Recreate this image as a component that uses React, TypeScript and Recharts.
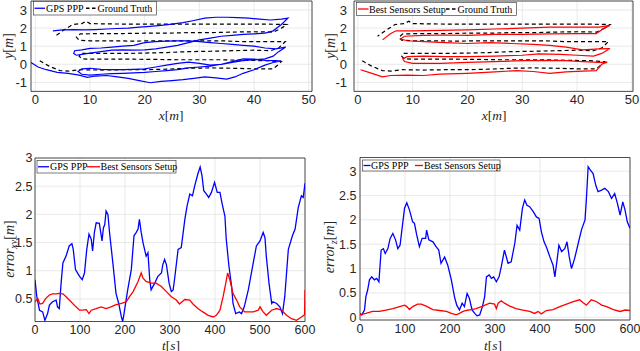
import React from 'react';
import { ComposedChart, Scatter, XAxis, YAxis, CartesianGrid, ReferenceArea } from 'recharts';

type Pt = [number, number];

// ---------- data (x [m], y [m]) ----------
const groundTruth: Pt[] = [
  [0.8, 0.2], [2.5, -0.1], [4.5, -0.35], [6, -0.38], [8, -0.3], [12, -0.32], [16, -0.3], [20, -0.3], [24, -0.27],
  [28, -0.22], [32, -0.2], [36, -0.22], [40, -0.25], [43.5, -0.25], [44.5, 0.0], [45, 0.15],
  [42, 0.2], [38, 0.22], [34, 0.25], [30, 0.25], [26, 0.25], [22, 0.27], [18, 0.28], [14, 0.28], [10, 0.28],
  [8.5, 0.3], [8, 0.45], [8.3, 0.6],
  [12, 0.6], [16, 0.6], [20, 0.62], [24, 0.65], [28, 0.7], [32, 0.72], [36, 0.75], [40, 0.78], [43, 0.75],
  [44.5, 0.9], [45.7, 1.25],
  [42, 1.25], [38, 1.25], [34, 1.3], [30, 1.3], [26, 1.3], [22, 1.3], [18, 1.28], [14, 1.3], [10, 1.3],
  [8, 1.33], [7.5, 1.5], [8.2, 1.68],
  [12, 1.7], [16, 1.7], [20, 1.72], [24, 1.72], [28, 1.75], [32, 1.75], [36, 1.78], [40, 1.8], [43.6, 1.78],
  [45, 2.0], [46, 2.2],
  [42, 2.22], [38, 2.22], [34, 2.22], [30, 2.22], [26, 2.22], [22, 2.22], [18, 2.22], [14, 2.23], [10, 2.25],
  [9.3, 2.38], [8.5, 2.25], [6.8, 2.2], [5, 1.85], [3.6, 1.55],
];

const gpsTrajectory: Pt[] = [
  [-0.8, 0.1], [0.5, -0.15], [2, -0.3], [4, -0.45], [6, -0.5], [8, -0.6], [9.5, -0.72], [11, -0.65], [13, -0.62],
  [15, -0.7], [17, -0.78], [19, -0.9], [21, -1.02], [23, -0.95], [25, -0.9], [27, -0.85], [29, -0.78], [31, -0.7],
  [33, -0.75], [35, -0.82], [36.5, -0.7], [38, -0.5], [40, -0.3], [42, -0.05], [43.5, 0.1], [45, 0.18],
  [44, 0.2], [42, 0.22], [40, 0.28], [38, 0.3], [36, 0.15], [34, 0.0], [32, -0.1], [30, -0.15], [28, -0.2],
  [26, -0.3], [24, -0.35], [22, -0.4], [20, -0.45], [18, -0.48], [16, -0.5], [14, -0.52], [12, -0.55],
  [10, -0.6], [8.5, -0.55], [7.8, -0.4],
  [8.5, -0.25], [10, -0.22], [12, -0.28], [14, -0.3], [16, -0.3], [18, -0.28], [20, -0.25], [22, -0.15],
  [24, -0.05], [26, 0.05], [28, 0.12], [30, 0.05], [32, -0.05], [34, 0.0], [36, 0.1], [38, 0.2], [40, 0.25],
  [42, 0.3], [43.5, 0.45], [44.5, 0.7], [45.8, 0.95],
  [44, 0.85], [42, 0.9], [40, 1.0], [38, 1.05], [36, 1.1], [34, 1.15], [32, 1.2], [30, 1.25], [28, 1.3],
  [26, 1.3], [24, 1.28], [22, 1.25], [20, 1.2], [18, 1.05], [16, 1.0], [14, 0.95], [12, 0.9], [10, 0.88],
  [8.5, 0.8], [7.2, 0.75], [7, 0.6], [7.5, 0.5], [8.5, 0.55],
  [10, 0.62], [12, 0.7], [14, 0.78], [16, 0.8], [18, 0.78], [20, 0.8], [22, 0.85], [24, 0.95], [26, 1.05],
  [28, 1.2], [30, 1.35], [32, 1.45], [34, 1.55], [36, 1.6], [38, 1.65], [40, 1.68], [42, 1.72], [43.5, 1.85],
  [45, 2.2], [46.2, 2.55],
  [45, 2.5], [43, 2.45], [41, 2.5], [39, 2.55], [37, 2.58], [35, 2.6], [33, 2.6], [31, 2.55], [29, 2.42],
  [27, 2.3], [25, 2.22], [23, 2.15], [21, 2.1], [19, 2.05], [17, 2.0], [15, 1.98], [13, 1.95], [11, 1.92],
  [9, 1.9], [7, 1.92], [5, 1.9], [3.2, 1.85],
];

const bestTrajectory: Pt[] = [
  [0.5, -0.3], [2, -0.45], [4.5, -0.7], [6, -0.62], [9, -0.6], [12, -0.62], [15, -0.55], [20, -0.5], [25, -0.42],
  [29, -0.35], [32, -0.4], [35, -0.5], [38, -0.42], [41, -0.38], [43.5, -0.35], [44.5, 0.0], [45.5, 0.12],
  [44, 0.1], [41, 0.15], [38, 0.2], [35, 0.22], [30, 0.2], [25, 0.15], [20, 0.1], [15, 0.05], [10, 0.05],
  [8.5, 0.15], [8.2, 0.3], [9, 0.42],
  [12, 0.45], [16, 0.42], [20, 0.42], [25, 0.45], [30, 0.5], [33, 0.58], [37, 0.55], [40, 0.5], [43, 0.45],
  [44.5, 0.6], [46, 0.87],
  [44, 0.85], [41, 0.8], [38, 0.95], [35, 1.05], [32, 1.1], [28, 1.15], [24, 1.2], [20, 1.15], [16, 1.2],
  [12, 1.25], [9, 1.3], [7.8, 1.4], [8.5, 1.55],
  [12, 1.6], [16, 1.62], [20, 1.6], [25, 1.65], [30, 1.65], [35, 1.68], [40, 1.7], [43.5, 1.7], [45, 2.0],
  [46, 2.15],
  [44, 2.05], [40, 2.05], [35, 2.05], [30, 2.0], [25, 1.95], [20, 1.9], [15, 1.88], [10, 1.85], [7, 1.85],
  [6, 1.7], [4.5, 1.35],
];

// ---------- data (t [s], error [m]) ----------
const gpsErrorXY: Pt[] = [
  [0, 0.84], [4, 0.54], [10, 0.3], [17, 0.27], [22, 0.12], [28, 0.24], [32, 0.39], [39, 0.45], [47, 0.48],
  [50, 0.36], [54, 0.33], [58, 0.78], [62, 1.14], [69, 1.26], [76, 1.44], [82, 1.48], [85, 1.38], [90, 1.02],
  [99, 0.9], [105, 0.84], [110, 0.96], [115, 1.38], [120, 1.65], [125, 1.56], [128, 1.35], [132, 1.68],
  [136, 1.85], [143, 1.84], [146, 1.68], [149, 1.53], [152, 1.76], [155, 1.82], [158, 2.06], [162, 2.0],
  [166, 1.65], [173, 1.14], [180, 0.6], [186, 0.42], [192, 0.18], [195, 0.1], [199, 0.3], [206, 0.66],
  [214, 1.02], [220, 1.62], [225, 1.68], [229, 1.74], [232, 1.91], [236, 1.68], [240, 1.5], [247, 1.26],
  [251, 1.32], [255, 0.84], [258, 0.66], [266, 0.78], [273, 0.9], [281, 0.96], [284, 1.11], [288, 1.2],
  [292, 1.11], [298, 0.78], [303, 0.63], [307, 0.66], [310, 0.84], [318, 1.38], [325, 1.41], [333, 1.91],
  [338, 2.15], [344, 2.36], [350, 2.33], [355, 2.51], [362, 2.72], [367, 2.84], [371, 2.69], [375, 2.42],
  [381, 2.36], [386, 2.3], [392, 2.39], [399, 2.57], [405, 2.39], [411, 2.39], [416, 2.18], [422, 1.97],
  [425, 1.56], [431, 1.08], [437, 0.72], [440, 0.42], [446, 0.24], [454, 0.27], [459, 0.24], [465, 0.36],
  [474, 0.66], [485, 1.14], [492, 1.44], [500, 1.53], [507, 1.68], [511, 1.59], [514, 1.26], [520, 0.78],
  [526, 0.42], [529, 0.45], [537, 0.42], [544, 0.36], [550, 0.24], [555, 0.54], [563, 1.38], [572, 1.62],
  [578, 1.74], [585, 2.12], [592, 2.33], [596, 2.3], [600, 2.55],
];

const bestErrorXY: Pt[] = [
  [0, 0.45], [6, 0.51], [11, 0.41], [17, 0.42], [24, 0.51], [32, 0.57], [39, 0.59], [47, 0.59], [54, 0.6],
  [62, 0.59], [69, 0.54], [80, 0.45], [91, 0.36], [99, 0.3], [106, 0.3], [114, 0.31], [120, 0.24], [125, 0.3],
  [136, 0.33], [147, 0.36], [158, 0.33], [169, 0.36], [177, 0.39], [192, 0.42], [203, 0.45], [210, 0.54],
  [218, 0.63], [229, 0.81], [236, 0.96], [240, 0.87], [247, 0.81], [258, 0.78], [269, 0.78], [281, 0.72],
  [292, 0.63], [303, 0.54], [314, 0.48], [321, 0.41], [327, 0.45], [333, 0.49], [344, 0.48], [351, 0.41],
  [362, 0.33], [373, 0.27], [385, 0.21], [396, 0.18], [403, 0.21], [411, 0.3], [418, 0.54], [424, 0.78],
  [428, 0.96], [433, 0.84], [440, 0.6], [448, 0.48], [455, 0.36], [466, 0.27], [485, 0.27], [496, 0.3],
  [500, 0.36], [507, 0.27], [514, 0.21], [526, 0.3], [537, 0.33], [548, 0.3], [559, 0.21], [570, 0.15],
  [581, 0.12], [592, 0.18], [599, 0.22], [600, 0.66],
];

const gpsErrorZ: Pt[] = [
  [0, 0.08], [4, 0.05], [10, 0.15], [13, 0.42], [17, 0.56], [21, 0.77], [26, 0.83], [32, 0.77], [37, 0.8],
  [42, 0.73], [47, 1.38], [52, 1.41], [56, 1.31], [62, 1.41], [67, 1.62], [73, 1.72], [79, 1.59], [84, 1.41],
  [89, 1.48], [94, 1.86], [99, 2.24], [104, 2.35], [110, 2.2], [117, 1.96], [121, 1.93], [126, 1.69],
  [132, 1.45], [138, 1.62], [146, 1.62], [148, 1.79], [153, 1.59], [162, 1.55], [169, 1.45], [175, 1.38],
  [180, 1.11], [188, 1.24], [195, 1.07], [203, 0.77], [210, 0.42], [215, 0.25], [221, 0.15], [227, 0.29],
  [232, 0.22], [238, 0.49], [243, 0.39], [249, 0.15], [255, 0.08], [260, 0.03], [266, 0.05], [272, 0.22],
  [277, 0.42], [281, 0.83], [287, 0.87], [292, 0.8], [297, 0.83], [303, 0.73], [309, 0.83], [314, 1.04],
  [321, 1.38], [329, 1.11], [336, 1.14], [344, 1.52], [349, 1.89], [355, 1.79], [361, 2.24], [366, 2.41],
  [371, 2.3], [377, 2.27], [385, 2.17], [392, 2.06], [398, 2.03], [403, 1.76], [409, 1.55], [414, 1.45],
  [422, 1.24], [429, 1.07], [433, 0.83], [438, 1.18], [442, 1.48], [448, 1.35], [455, 1.41], [460, 1.55],
  [465, 1.24], [470, 1.0], [477, 1.21], [485, 1.52], [492, 1.79], [500, 2.0], [503, 2.41], [507, 3.09],
  [512, 3.02], [518, 2.95], [524, 2.71], [529, 2.58], [537, 2.61], [544, 2.65], [552, 2.58], [559, 2.44],
  [566, 2.54], [572, 2.34], [578, 2.1], [584, 2.37], [589, 2.2], [594, 1.96], [600, 1.83],
];

const bestErrorZ: Pt[] = [
  [0, 0.05], [13, 0.08], [28, 0.12], [43, 0.12], [58, 0.15], [73, 0.18], [88, 0.22], [99, 0.25], [104, 0.22],
  [110, 0.16], [117, 0.22], [128, 0.27], [136, 0.27], [147, 0.23], [162, 0.16], [177, 0.14], [192, 0.12],
  [203, 0.08], [214, 0.05], [221, 0.08], [229, 0.12], [236, 0.14], [247, 0.16], [258, 0.18], [273, 0.23],
  [288, 0.29], [299, 0.27], [303, 0.18], [307, 0.29], [314, 0.34], [321, 0.29], [333, 0.23], [347, 0.18],
  [362, 0.15], [377, 0.12], [388, 0.08], [396, 0.12], [403, 0.07], [414, 0.14], [429, 0.16], [444, 0.22],
  [459, 0.27], [474, 0.32], [488, 0.36], [496, 0.3], [503, 0.25], [514, 0.36], [526, 0.32], [537, 0.25],
  [548, 0.22], [563, 0.16], [578, 0.12], [589, 0.15], [600, 0.14],
];

// ---------- ticks ----------
const posXTicks = [0, 10, 20, 30, 40, 50];
const posYTicks = [-1, 0, 1, 2, 3];
const timeTicks = [0, 100, 200, 300, 400, 500, 600];
const errXYTicks = [0.5, 1, 1.5, 2, 2.5, 3];
const errZTicks = [0, 0.5, 1, 1.5, 2, 2.5, 3];

const BLUE = '#0000ff';
const RED = '#ff0000';
const BLACK = '#000000';
const AXIS = '#262626';
const SANS = '"Liberation Sans", Arial, Helvetica, sans-serif';
const SERIF = '"Liberation Serif", "Times New Roman", serif';

const toRows = (pts: Pt[]) => pts.map(([x, y]) => ({ x, y }));
const NoDot = () => <g />;

type Series = { data: Pt[]; color: string; width: number; dash?: string };

type PanelProps = {
  left: number;
  top: number;
  width: number;
  height: number;
  margin: { top: number; right: number; bottom: number; left: number };
  yAxisWidth: number;
  xAxisHeight: number;
  xDomain: [number, number];
  yDomain: [number, number];
  xTicks: number[];
  yTicks: number[];
  xTickMargin: number;
  yTickMargin: number;
  fontSize: number;
  series: Series[];
};

function Panel(p: PanelProps) {
  const tick = { fontSize: p.fontSize, fill: AXIS, fontFamily: SANS };
  return (
    <div style={{ position: 'absolute', left: p.left, top: p.top, width: p.width, height: p.height }}>
      <ComposedChart width={p.width} height={p.height} margin={p.margin}>
        <CartesianGrid stroke="#e3e3e3" strokeWidth={0.8} />
        <XAxis
          type="number"
          dataKey="x"
          domain={p.xDomain}
          ticks={p.xTicks}
          allowDataOverflow
          interval={0}
          axisLine={false}
          tickLine={false}
          tickSize={0}
          tickMargin={p.xTickMargin}
          height={p.xAxisHeight}
          tick={tick}
        />
        <YAxis
          type="number"
          dataKey="y"
          domain={p.yDomain}
          ticks={p.yTicks}
          allowDataOverflow
          interval={0}
          axisLine={false}
          tickLine={false}
          tickSize={0}
          tickMargin={p.yTickMargin}
          width={p.yAxisWidth}
          tick={tick}
        />
        {p.series.map((s, i) => (
          <Scatter
            key={i}
            data={toRows(s.data)}
            fill={s.color}
            line={{ stroke: s.color, strokeWidth: s.width, strokeDasharray: s.dash, fill: 'none' }}
            shape={NoDot}
            isAnimationActive={false}
          />
        ))}
        <ReferenceArea
          x1={p.xDomain[0]}
          x2={p.xDomain[1]}
          y1={p.yDomain[0]}
          y2={p.yDomain[1]}
          fill="none"
          fillOpacity={0}
          stroke={AXIS}
          strokeWidth={0.8}
        />
      </ComposedChart>
    </div>
  );
}

function XLabel({ x, y, letter }: { x: number; y: number; letter: string }) {
  return (
    <text x={x} y={y} textAnchor="middle" fontFamily={SERIF} fontSize={13.5} fill={AXIS}>
      <tspan fontStyle="italic">{letter}</tspan>
      <tspan>[</tspan>
      <tspan fontStyle="italic">{letter === 't' ? 's' : 'm'}</tspan>
      <tspan>]</tspan>
    </text>
  );
}

function YLabel({ x, y, word, sub }: { x: number; y: number; word: string; sub?: string }) {
  return (
    <text transform={`translate(${x},${y}) rotate(-90)`} x={0} y={0} textAnchor="middle" fontFamily={SERIF} fontSize={14} fill={AXIS}>
      <tspan fontStyle="italic">{word}</tspan>
      {sub ? (
        <tspan fontStyle="italic" fontSize={10} dy={3}>
          {sub}
        </tspan>
      ) : null}
      <tspan dy={sub ? -3 : 0}>[</tspan>
      <tspan fontStyle="italic">m</tspan>
      <tspan>]</tspan>
    </text>
  );
}

type LegendItem = { label: string; color: string; dash?: string; x1: number; x2: number; tx: number };

function LegendBox({ x, y, w, h, items }: { x: number; y: number; w: number; h: number; items: LegendItem[] }) {
  const cy = y + h / 2;
  return (
    <g>
      <rect x={x} y={y} width={w} height={h} fill="#ffffff" stroke={AXIS} strokeWidth={0.6} />
      {items.map((it, i) => (
        <g key={i}>
          <line x1={it.x1} x2={it.x2} y1={cy} y2={cy} stroke={it.color} strokeWidth={1.3} strokeDasharray={it.dash} />
          <text x={it.tx} y={cy + 3.6} fontFamily={SERIF} fontSize={10} fill="#000">
            {it.label}
          </text>
        </g>
      ))}
    </g>
  );
}

export default function App() {
  return (
    <div style={{ position: 'absolute', left: 0, top: 0, width: 640, height: 351, background: '#fff', overflow: 'hidden' }}>
      <Panel
        left={0}
        top={0}
        width={320}
        height={125}
        margin={{ top: 1, right: 8, bottom: 0, left: 0 }}
        yAxisWidth={31}
        xAxisHeight={33.6}
        xDomain={[-0.8, 50.6]}
        yDomain={[-1.5, 3.5]}
        xTicks={posXTicks}
        yTicks={posYTicks}
        xTickMargin={3}
        yTickMargin={4}
        fontSize={13}
        series={[
          { data: groundTruth, color: BLACK, width: 1.2, dash: '4 3' },
          { data: gpsTrajectory, color: BLUE, width: 1.2 },
        ]}
      />
      <Panel
        left={320}
        top={0}
        width={320}
        height={125}
        margin={{ top: 1, right: 7, bottom: 0, left: 0 }}
        yAxisWidth={34}
        xAxisHeight={33.6}
        xDomain={[-0.7, 50.2]}
        yDomain={[-1.5, 3.5]}
        xTicks={posXTicks}
        yTicks={posYTicks}
        xTickMargin={3}
        yTickMargin={7}
        fontSize={13}
        series={[
          { data: groundTruth, color: BLACK, width: 1.2, dash: '4 3' },
          { data: bestTrajectory, color: RED, width: 1.2 },
        ]}
      />
      <Panel
        left={0}
        top={150}
        width={320}
        height={200}
        margin={{ top: 8, right: 15, bottom: 0, left: 0 }}
        yAxisWidth={35}
        xAxisHeight={28.5}
        xDomain={[0, 600]}
        yDomain={[0.1, 3]}
        xTicks={timeTicks}
        yTicks={errXYTicks}
        xTickMargin={4}
        yTickMargin={2.5}
        fontSize={12.5}
        series={[
          { data: gpsErrorXY, color: BLUE, width: 1.3 },
          { data: bestErrorXY, color: RED, width: 1.3 },
        ]}
      />
      <Panel
        left={320}
        top={150}
        width={320}
        height={200}
        margin={{ top: 7.5, right: 10, bottom: 0, left: 0 }}
        yAxisWidth={40}
        xAxisHeight={30}
        xDomain={[0, 600]}
        yDomain={[-0.055, 3.28]}
        xTicks={timeTicks}
        yTicks={errZTicks}
        xTickMargin={4}
        yTickMargin={3.5}
        fontSize={12.5}
        series={[
          { data: gpsErrorZ, color: BLUE, width: 1.3 },
          { data: bestErrorZ, color: RED, width: 1.3 },
        ]}
      />
      <svg width={640} height={351} style={{ position: 'absolute', left: 0, top: 0, pointerEvents: 'none' }}>
        <XLabel x={171} y={119.5} letter="x" />
        <XLabel x={494} y={119.5} letter="x" />
        <XLabel x={171} y={349.5} letter="t" />
        <XLabel x={493} y={349.5} letter="t" />
        <YLabel x={12.5} y={46} word="y" />
        <YLabel x={334.5} y={46} word="y" />
        <YLabel x={14} y={249} word="error" sub="xy" />
        <YLabel x={334} y={247} word="error" sub="z" />
        <LegendBox
          x={33.5}
          y={1.5}
          w={123}
          h={13.5}
          items={[
            { label: 'GPS PPP', color: BLUE, x1: 34.5, x2: 45, tx: 46 },
            { label: 'Ground Truth', color: BLACK, dash: '3.5 2.5', x1: 86, x2: 97, tx: 97.5 },
          ]}
        />
        <LegendBox
          x={356.5}
          y={2.5}
          w={160}
          h={13}
          items={[
            { label: 'Best Sensors Setup', color: RED, x1: 358, x2: 368.5, tx: 369 },
            { label: 'Ground Truth', color: BLACK, dash: '3.5 2.5', x1: 446, x2: 457, tx: 457.5 },
          ]}
        />
        <LegendBox
          x={37}
          y={160.5}
          w={139}
          h={12.5}
          items={[
            { label: 'GPS PPP', color: BLUE, x1: 38, x2: 49, tx: 50 },
            { label: 'Best Sensors Setup', color: RED, x1: 87, x2: 100, tx: 100.5 },
          ]}
        />
        <LegendBox
          x={362.5}
          y={160}
          w={137.5}
          h={11}
          items={[
            { label: 'GPS PPP', color: BLUE, x1: 363.5, x2: 370.5, tx: 371 },
            { label: 'Best Sensors Setup', color: RED, x1: 415, x2: 423, tx: 424 },
          ]}
        />
      </svg>
    </div>
  );
}
